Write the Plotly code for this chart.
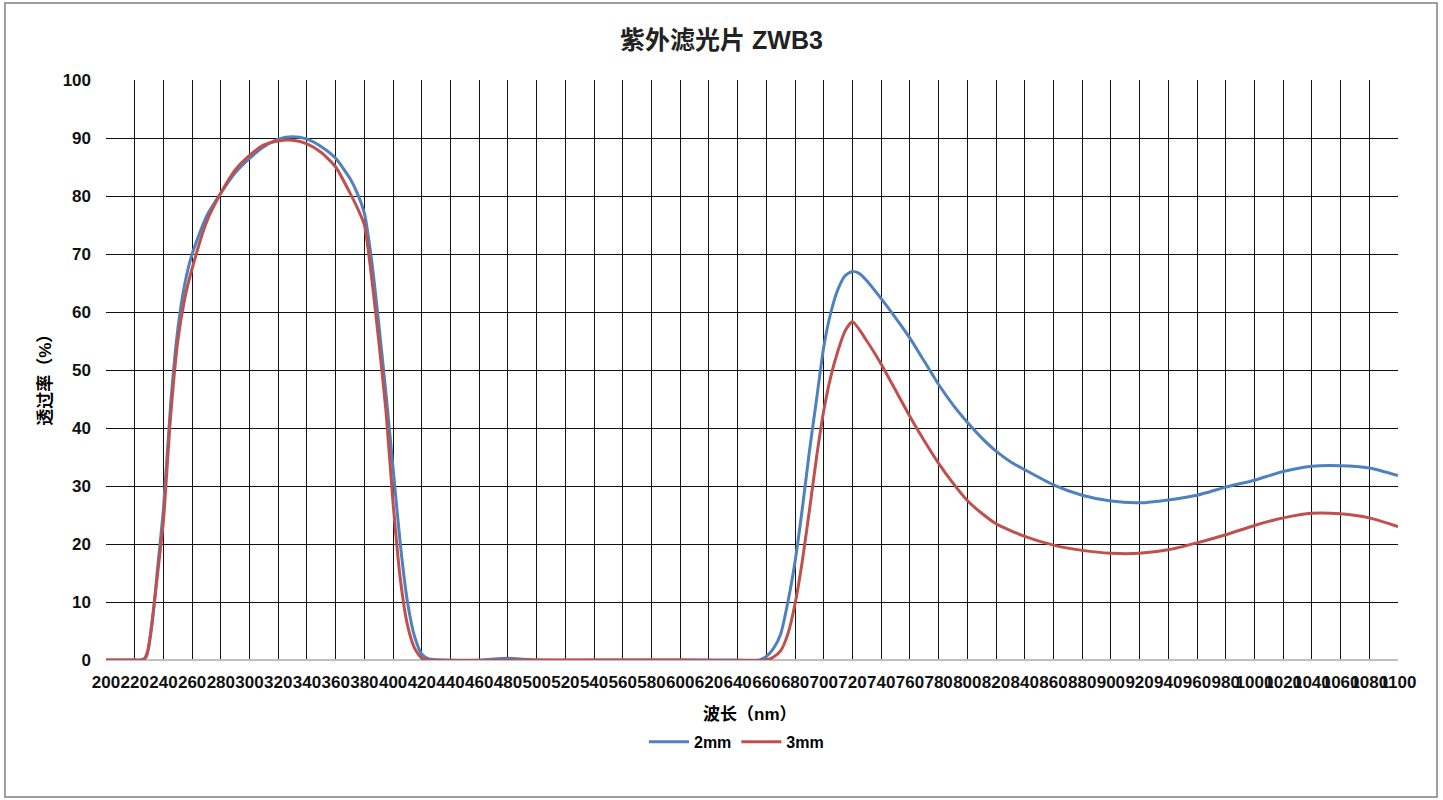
import plotly.graph_objects as go

# transmittance curves (wavelength nm, %)
wl_2mm = [200, 220, 224, 228, 232, 236, 240, 245, 250, 255, 260, 270, 280, 290, 300,
          310, 320, 330, 340, 350, 360, 370, 375, 380, 385, 390, 395, 400, 405, 410,
          415, 420, 425, 440, 460, 480, 500, 560, 640, 655, 660, 665, 670, 675, 680,
          685, 690, 695, 700, 705, 710, 715, 720, 725, 730, 740, 750, 760, 770, 780,
          790, 800, 810, 820, 830, 840, 860, 880, 900, 920, 940, 960, 980, 1000, 1020,
          1040, 1060, 1080, 1100]
t_2mm = [0, 0, 0, 0.5, 6, 16, 26, 44, 57, 65, 70, 76.5, 80.5, 84, 86.5,
         88.5, 89.8, 90.2, 89.8, 88.5, 86.5, 83, 80.5, 77, 69, 58, 46, 33, 20, 10,
         4, 1, 0.2, 0, 0, 0.3, 0, 0, 0, 0, 0.6, 2, 4.5, 10, 17,
         26, 36, 45, 54, 60, 64, 66.3, 67, 66.6, 65.4, 62.3, 59, 55.5, 51.5, 47.5,
         44, 41, 38.3, 36, 34.2, 32.8, 30.2, 28.4, 27.4, 27.1, 27.6, 28.4, 29.8, 31, 32.5,
         33.4, 33.5, 33.1, 31.8]

wl_3mm = [200, 220, 226, 229, 233, 236, 240, 245, 250, 255, 260, 270, 280, 290, 300,
          310, 320, 330, 340, 350, 360, 370, 375, 380, 385, 390, 395, 400, 405, 410,
          415, 420, 425, 500, 600, 660, 665, 670, 675, 680, 685, 690, 695, 700, 705,
          710, 715, 720, 730, 740, 750, 760, 770, 780, 790, 800, 810, 820, 840, 860,
          880, 900, 920, 940, 960, 980, 1000, 1020, 1040, 1060, 1080, 1100]
t_3mm = [0, 0, 0, 1.5, 8.5, 15, 24, 42, 55, 62.5, 67.5, 75.5, 80.5, 84.5, 87,
         88.8, 89.5, 89.6, 89, 87.5, 85, 80.5, 78, 75, 66, 55, 43, 27, 14, 6,
         2, 0.3, 0, 0, 0, 0, 0.5, 1.6, 4.5, 9.7, 17, 25.8, 35, 43, 49,
         53.4, 56.8, 58.3, 55, 51, 46.5, 42, 37.8, 33.9, 30.5, 27.5, 25.3, 23.5, 21.3, 19.8,
         18.9, 18.4, 18.4, 19, 20.2, 21.6, 23.2, 24.5, 25.3, 25.2, 24.5, 23]

x_ticks = list(range(200, 1101, 20))
y_ticks = list(range(0, 101, 10))

font_lat = "Liberation Sans, Noto Sans CJK SC, sans-serif"

fig = go.Figure()
fig.add_trace(go.Scatter(x=wl_2mm, y=t_2mm, mode="lines", name="2mm",
                         line=dict(color="#4F81BD", width=3, shape="spline", smoothing=0.6)))
fig.add_trace(go.Scatter(x=wl_3mm, y=t_3mm, mode="lines", name="3mm",
                         line=dict(color="#C0504D", width=3, shape="spline", smoothing=0.6)))

fig.update_layout(
    width=1443, height=800,
    margin=dict(l=106, r=45, t=80, b=140),
    paper_bgcolor="white", plot_bgcolor="white",
    font=dict(family=font_lat, color="black"),
    title=dict(text="紫外滤光片 ZWB3", x=0.5, xanchor="center", y=0.95, yanchor="middle",
               font=dict(size=25, weight="bold", color="#222222")),
    legend=dict(orientation="h", x=0.488, xanchor="center", y=-0.141, yanchor="middle",
                font=dict(size=16, weight="bold"), itemwidth=40, bgcolor="rgba(0,0,0,0)"),
    showlegend=True,
)

fig.update_xaxes(range=[200, 1100], tickvals=x_ticks, ticktext=[str(v) for v in x_ticks],
                 tickangle=0, showgrid=True, gridcolor="#111111", gridwidth=1,
                 showline=False, zeroline=False, ticks="", ticklabelstandoff=10,
                 tickfont=dict(size=17, weight="bold", color="#111111"))
fig.update_yaxes(range=[0, 100], tickvals=y_ticks, showgrid=True, gridcolor="#111111",
                 gridwidth=1, showline=False, zeroline=True, zerolinecolor="#bfbfbf",
                 zerolinewidth=1.5, ticks="", ticklabelstandoff=14,
                 tickfont=dict(size=17, weight="bold", color="#111111"))

# axis titles
fig.add_annotation(text="波长（nm）", xref="paper", yref="paper", x=0.4985, y=-0.093,
                   showarrow=False, xanchor="center", yanchor="middle",
                   font=dict(size=17, weight="bold"))
fig.add_annotation(text="透过率（%）", xref="paper", yref="paper", x=-0.0472, y=0.49,
                   showarrow=False, textangle=-90, xanchor="center", yanchor="middle",
                   font=dict(size=17, weight="bold"))

# chart frame
fig.add_shape(type="rect", xref="paper", yref="paper", x0=-0.0782, x1=1.0302,
              y0=-0.2362, y1=1.1328, line=dict(color="#7f7f7f", width=1.5), layer="below")

# drop the default page margin so the figure sits at the window's corner
fig.write_html("out.html", config={"displayModeBar": False},
               post_script="document.body.style.margin='0';")
